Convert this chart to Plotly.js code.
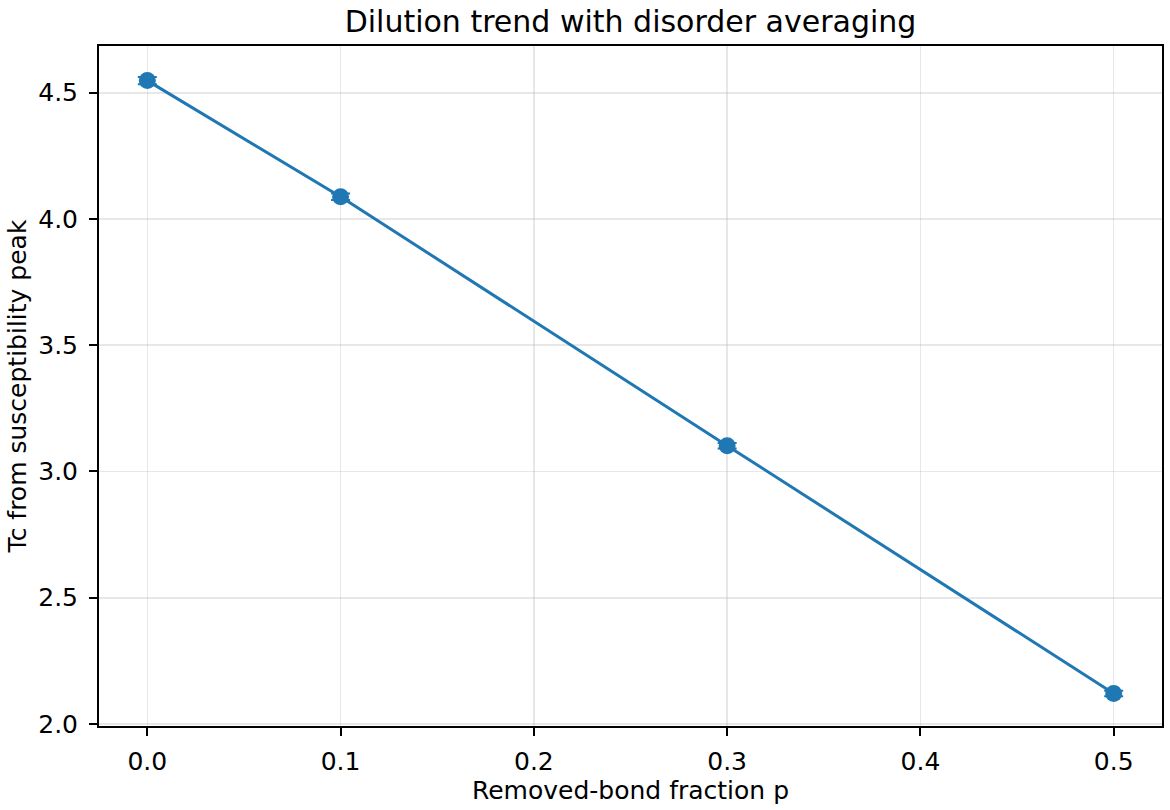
<!DOCTYPE html>
<html>
<head>
<meta charset="utf-8">
<script src="https://cdn.plot.ly/plotly-3.0.1.min.js"></script>
<style>
html,body{margin:0;padding:0;background:#fff;}
#chart{width:1170px;height:810px;}
</style>
</head>
<body>
<div id="chart"></div>
<script>
// Data
const removedFraction = [0.0, 0.1, 0.3, 0.5];
const tcPeak = [4.548, 4.088, 3.102, 2.121];
const tcError = [0.014, 0.013, 0.011, 0.011];
const xTickVals = [0.0, 0.1, 0.2, 0.3, 0.4, 0.5];
const xTickText = ["0.0", "0.1", "0.2", "0.3", "0.4", "0.5"];
const yTickVals = [2.0, 2.5, 3.0, 3.5, 4.0, 4.5];
const yTickText = ["2.0", "2.5", "3.0", "3.5", "4.0", "4.5"];

const blue = '#1f77b4';
const fontFam = 'DejaVu Sans, sans-serif';

const trace = {
  x: removedFraction,
  y: tcPeak,
  type: 'scatter',
  mode: 'lines+markers',
  line: {color: blue, width: 3},
  marker: {color: blue, size: 17},
  error_y: {type: 'data', array: tcError, visible: true, color: blue, thickness: 2, width: 9.5},
  hoverinfo: 'x+y'
};

const axisCommon = {
  showline: true,
  linecolor: '#000',
  linewidth: 2,
  mirror: true,
  ticks: 'outside',
  ticklen: 8,
  tickwidth: 2,
  tickcolor: '#000',
  showgrid: true,
  gridcolor: 'rgba(176,176,176,0.3)',
  gridwidth: 1.6,
  zeroline: false,
  tickfont: {family: fontFam, size: 25, color: '#000'}
};

const layout = {
  width: 1170,
  height: 810,
  paper_bgcolor: '#fff',
  plot_bgcolor: '#fff',
  margin: {l: 99, r: 8, t: 46, b: 84},
  showlegend: false,
  font: {family: fontFam, color: '#000'},
  title: {
    text: 'Dilution trend with disorder averaging',
    font: {family: fontFam, size: 30, color: '#000'},
    x: 0.5, xref: 'paper', xanchor: 'center',
    y: 1 - 21/810, yref: 'container', yanchor: 'middle'
  },
  xaxis: Object.assign({}, axisCommon, {
    range: [-0.025, 0.525],
    tickvals: xTickVals,
    ticktext: xTickText,
    ticklabelstandoff: 4,
    title: {text: 'Removed-bond fraction p', font: {family: fontFam, size: 25, color: '#000'}, standoff: 4}
  }),
  yaxis: Object.assign({}, axisCommon, {
    range: [1.992, 4.685],
    tickvals: yTickVals,
    ticktext: yTickText,
    ticklabelstandoff: 6,
    title: {text: 'Tc from susceptibility peak', font: {family: fontFam, size: 25, color: '#000'}, standoff: 4}
  })
};

Plotly.newPlot('chart', [trace], layout, {displayModeBar: false, staticPlot: true});
</script>
</body>
</html>
